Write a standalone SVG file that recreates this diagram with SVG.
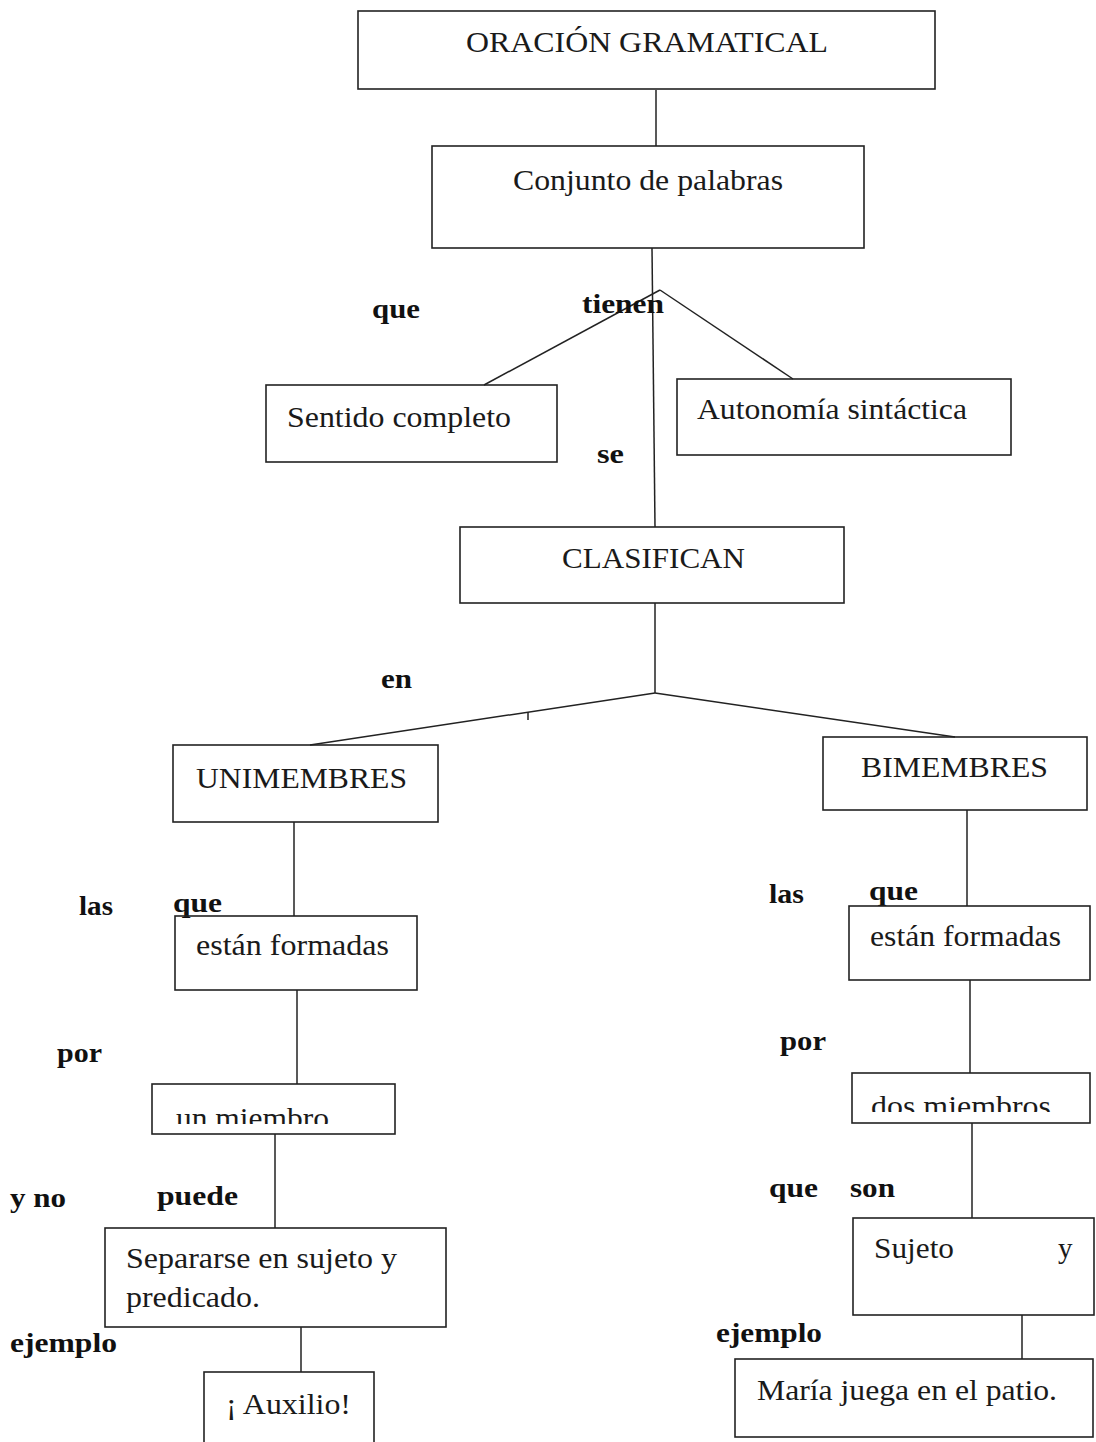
<svg xmlns="http://www.w3.org/2000/svg" width="1096" height="1442" viewBox="0 0 1096 1442">
<style>
.box{fill:none;stroke:#222;stroke-width:1.6}
.ln{stroke:#222;stroke-width:1.5;fill:none}
.t{font-family:"Liberation Serif","Times New Roman",serif;font-size:29px;fill:#1a1a1a}
.b{font-family:"Liberation Serif","Times New Roman",serif;font-size:27px;font-weight:bold;fill:#111}
</style>
<defs>
<clipPath id="c1"><rect x="152" y="1084" width="243" height="40"/></clipPath>
<clipPath id="c2"><rect x="852" y="1073" width="238" height="39"/></clipPath>
</defs>
<rect width="1096" height="1442" fill="#fff"/>
<g id="connectors">
<line class="ln" x1="656" y1="90" x2="656" y2="146"/>
<line class="ln" x1="652" y1="248" x2="655" y2="527"/>
<line class="ln" x1="660" y1="290" x2="484" y2="385"/>
<line class="ln" x1="660" y1="290" x2="793" y2="379"/>
<line class="ln" x1="655" y1="603" x2="655" y2="693"/>
<line class="ln" x1="655" y1="693" x2="310" y2="745"/>
<line class="ln" x1="655" y1="693" x2="955" y2="737"/>
<line class="ln" x1="528" y1="712" x2="528" y2="720"/>
<line class="ln" x1="294" y1="822" x2="294" y2="916"/>
<line class="ln" x1="297" y1="990" x2="297" y2="1084"/>
<line class="ln" x1="275" y1="1134" x2="275" y2="1228"/>
<line class="ln" x1="301" y1="1327" x2="301" y2="1372"/>
<line class="ln" x1="967" y1="810" x2="967" y2="906"/>
<line class="ln" x1="970" y1="980" x2="970" y2="1073"/>
<line class="ln" x1="972" y1="1123" x2="972" y2="1218"/>
<line class="ln" x1="1022" y1="1315" x2="1022" y2="1359"/>
</g>
<g id="labels">
<text class="b" x="372" y="318" textLength="48" lengthAdjust="spacingAndGlyphs">que</text>
<text class="b" x="582" y="313" textLength="82" lengthAdjust="spacingAndGlyphs">tienen</text>
<text class="b" x="597" y="463" textLength="27" lengthAdjust="spacingAndGlyphs">se</text>
<text class="b" x="381" y="688" textLength="31" lengthAdjust="spacingAndGlyphs">en</text>
<text class="b" x="79" y="915" textLength="34" lengthAdjust="spacingAndGlyphs">las</text>
<text class="b" x="173" y="912" textLength="49" lengthAdjust="spacingAndGlyphs">que</text>
<text class="b" x="57" y="1062" textLength="45" lengthAdjust="spacingAndGlyphs">por</text>
<text class="b" x="10" y="1207" textLength="56" lengthAdjust="spacingAndGlyphs">y no</text>
<text class="b" x="157" y="1205" textLength="81" lengthAdjust="spacingAndGlyphs">puede</text>
<text class="b" x="10" y="1352" textLength="107" lengthAdjust="spacingAndGlyphs">ejemplo</text>
<text class="b" x="769" y="903" textLength="35" lengthAdjust="spacingAndGlyphs">las</text>
<text class="b" x="869" y="900" textLength="49" lengthAdjust="spacingAndGlyphs">que</text>
<text class="b" x="780" y="1050" textLength="46" lengthAdjust="spacingAndGlyphs">por</text>
<text class="b" x="769" y="1197" textLength="49" lengthAdjust="spacingAndGlyphs">que</text>
<text class="b" x="850" y="1197" textLength="45" lengthAdjust="spacingAndGlyphs">son</text>
<text class="b" x="716" y="1342" textLength="106" lengthAdjust="spacingAndGlyphs">ejemplo</text>
</g>
<g id="n-oracion"><rect class="box" x="358" y="11" width="577" height="78"/><text class="t" x="466" y="52" textLength="362" lengthAdjust="spacingAndGlyphs">ORACIÓN GRAMATICAL</text></g>
<g id="n-conjunto"><rect class="box" x="432" y="146" width="432" height="102"/><text class="t" x="513" y="190" textLength="270" lengthAdjust="spacingAndGlyphs">Conjunto de palabras</text></g>
<g id="n-sentido"><rect class="box" x="266" y="385" width="291" height="77"/><text class="t" x="287" y="427" textLength="224" lengthAdjust="spacingAndGlyphs">Sentido completo</text></g>
<g id="n-autonomia"><rect class="box" x="677" y="379" width="334" height="76"/><text class="t" x="697" y="419" textLength="270" lengthAdjust="spacingAndGlyphs">Autonomía sintáctica</text></g>
<g id="n-clasifican"><rect class="box" x="460" y="527" width="384" height="76"/><text class="t" x="562" y="568" textLength="183" lengthAdjust="spacingAndGlyphs">CLASIFICAN</text></g>
<g id="n-unimembres"><rect class="box" x="173" y="745" width="265" height="77"/><text class="t" x="196" y="788" textLength="211" lengthAdjust="spacingAndGlyphs">UNIMEMBRES</text></g>
<g id="n-bimembres"><rect class="box" x="823" y="737" width="264" height="73"/><text class="t" x="861" y="777" textLength="187" lengthAdjust="spacingAndGlyphs">BIMEMBRES</text></g>
<g id="n-formadas-l"><rect class="box" x="175" y="916" width="242" height="74"/><text class="t" x="196" y="955" textLength="193" lengthAdjust="spacingAndGlyphs">están formadas</text></g>
<g id="n-formadas-r"><rect class="box" x="849" y="906" width="241" height="74"/><text class="t" x="870" y="946" textLength="191" lengthAdjust="spacingAndGlyphs">están formadas</text></g>
<g id="n-unmiembro"><rect class="box" x="152" y="1084" width="243" height="50"/><text class="t" x="176" y="1128" font-size="32" textLength="153" lengthAdjust="spacingAndGlyphs" clip-path="url(#c1)">un miembro</text></g>
<g id="n-dosmiembros"><rect class="box" x="852" y="1073" width="238" height="50"/><text class="t" x="871" y="1116" font-size="32" textLength="180" lengthAdjust="spacingAndGlyphs" clip-path="url(#c2)">dos miembros</text></g>
<g id="n-separarse"><rect class="box" x="105" y="1228" width="341" height="99"/><text class="t" x="126" y="1268" textLength="271" lengthAdjust="spacingAndGlyphs">Separarse en sujeto y</text><text class="t" x="126" y="1307" textLength="134" lengthAdjust="spacingAndGlyphs">predicado.</text></g>
<g id="n-sujeto"><rect class="box" x="853" y="1218" width="241" height="97"/><text class="t" x="874" y="1258" textLength="80" lengthAdjust="spacingAndGlyphs">Sujeto</text><text class="t" x="1058" y="1258">y</text></g>
<g id="n-auxilio"><rect class="box" x="204" y="1372" width="170" height="75"/><text class="t" x="226" y="1414" textLength="125" lengthAdjust="spacingAndGlyphs">¡ Auxilio!</text></g>
<g id="n-maria"><rect class="box" x="735" y="1359" width="358" height="78"/><text class="t" x="757" y="1400" textLength="300" lengthAdjust="spacingAndGlyphs">María juega en el patio.</text></g>
</svg>
